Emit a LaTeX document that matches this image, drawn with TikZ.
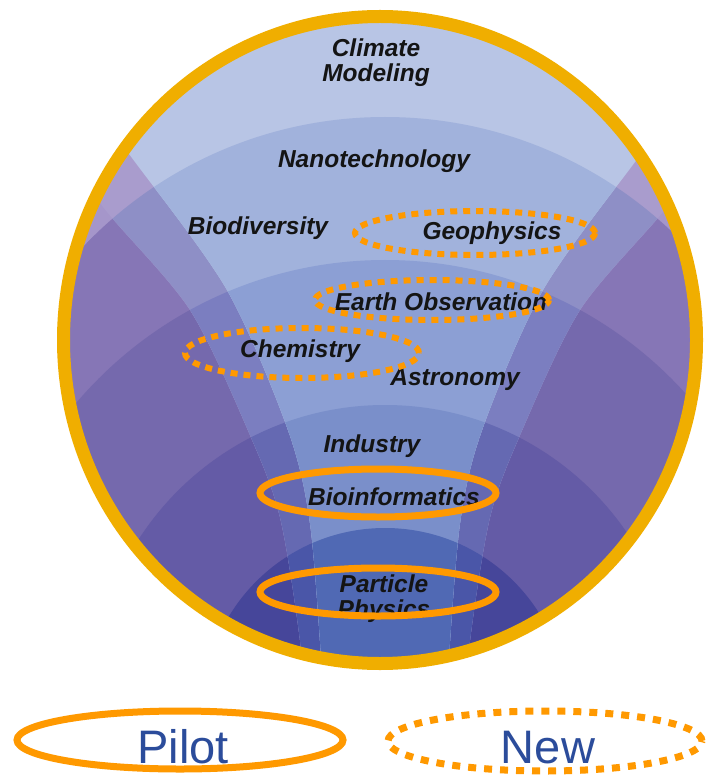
\documentclass[tikz,border=0pt]{standalone}
\usepackage{fontspec}
\setmainfont{Liberation Sans}
\definecolor{ringc}{HTML}{F0AE00}
\definecolor{orng}{HTML}{FF9900}
\definecolor{legblue}{HTML}{2B4C9B}
\definecolor{bAc}{HTML}{B8C5E5}\definecolor{bAm}{HTML}{A99CCD}\definecolor{bAo}{HTML}{A596CA}
\definecolor{bBc}{HTML}{A1B2DC}\definecolor{bBm}{HTML}{8E8FC6}\definecolor{bBo}{HTML}{8676B6}
\definecolor{bCc}{HTML}{8C9FD4}\definecolor{bCm}{HTML}{7B7EC0}\definecolor{bCo}{HTML}{7569AD}
\definecolor{bDc}{HTML}{7A8FCA}\definecolor{bDm}{HTML}{6569B2}\definecolor{bDo}{HTML}{645BA6}
\definecolor{bEc}{HTML}{5069B4}\definecolor{bEm}{HTML}{4A56A8}\definecolor{bEo}{HTML}{46469A}
\newcommand{\bandfills}[5]{%
  \fill[#1] (-50,-50) rectangle (760,760);
  \fill[#2] (385,533) circle[radius=416pt];
  \fill[#3] (385,665) circle[radius=405pt];
  \fill[#4] (385,698) circle[radius=293pt];
  \fill[#5] (385,710) circle[radius=182pt];}
\begin{document}
\begin{tikzpicture}[x=1pt,y=-1pt,
  lbl/.style={font=\fontsize{24.5}{25}\selectfont\bfseries\itshape, text=black!92, inner sep=0pt, align=center, anchor=base},
  leg/.style={font=\fontsize{47}{50}\selectfont, text=legblue, inner sep=0pt, anchor=base},
  pilotring/.style={draw=orng, line width=7pt},
  newring/.style={draw=orng, line width=6pt, dash pattern=on 7pt off 6pt},
  legnew/.style={draw=orng, line width=7pt, dash pattern=on 8pt off 8pt}]
\useasboundingbox (0,0) rectangle (705,775);
\fill[white] (0,0) rectangle (705,775);
\begin{scope}
  \clip (380,340) ellipse[x radius=318pt, y radius=325pt];
  \bandfills{bAo}{bBo}{bCo}{bDo}{bEo}
  \begin{scope}
    \clip (20,-40) -- plot[smooth] coordinates {(55,135) (103,207) (190,310) (250,435) (280,517) (300,640) (305,720)}
      -- plot[smooth] coordinates {(465,720) (470,640) (490,517) (520,435) (580,310) (667,207) (715,135)} -- (750,-40) -- cycle;
    \bandfills{bAm}{bBm}{bCm}{bDm}{bEm}
    \begin{scope}
      \clip (40,-40) -- plot[smooth] coordinates {(95,110) (132,158) (227,290) (288,430) (310,523) (322,670) (324,720)}
        -- plot[smooth] coordinates {(446,720) (448,670) (460,523) (482,430) (543,290) (638,158) (675,110)} -- (730,-40) -- cycle;
      \bandfills{bAc}{bBc}{bCc}{bDc}{bEc}
    \end{scope}
  \end{scope}
\end{scope}
\draw[ringc, line width=13pt] (380,340) ellipse[x radius=316.5pt, y radius=323.5pt];
% labels
\node[lbl] (climate) at (376,82) {Climate\\Modeling};
\node[lbl] (nano) at (374,168) {Nanotechnology};
\node[lbl] (biodiv) at (258,235) {Biodiversity};
\node[lbl] (geo) at (492,240) {Geophysics};
\node[lbl] (earth) at (441,310) {Earth Observation};
\node[lbl] (chem) at (300,357) {Chemistry};
\node[lbl] (astro) at (455,385) {Astronomy};
\node[lbl] (industry) at (372,452) {Industry};
\node[lbl] (bioinf) at (394,505) {Bioinformatics};
\node[lbl] (particle) at (384,617) {Particle\\Physics};
% highlight rings
\draw[newring] (475,233) ellipse[x radius=120pt, y radius=22pt];
\draw[newring] (432,300) ellipse[x radius=117pt, y radius=20pt];
\draw[newring] (302,353) ellipse[x radius=117pt, y radius=25pt];
\draw[pilotring] (378,493) ellipse[x radius=118pt, y radius=24pt];
\draw[pilotring] (378,592) ellipse[x radius=118pt, y radius=24pt];
% legend
\draw[pilotring] (180,740) ellipse[x radius=163pt, y radius=29pt];
\node[leg] (pilot) at (183,763) {Pilot};
\draw[legnew] (545,741) ellipse[x radius=157pt, y radius=30pt];
\node[leg] (new) at (548,763) {New};
\end{tikzpicture}
\end{document}
